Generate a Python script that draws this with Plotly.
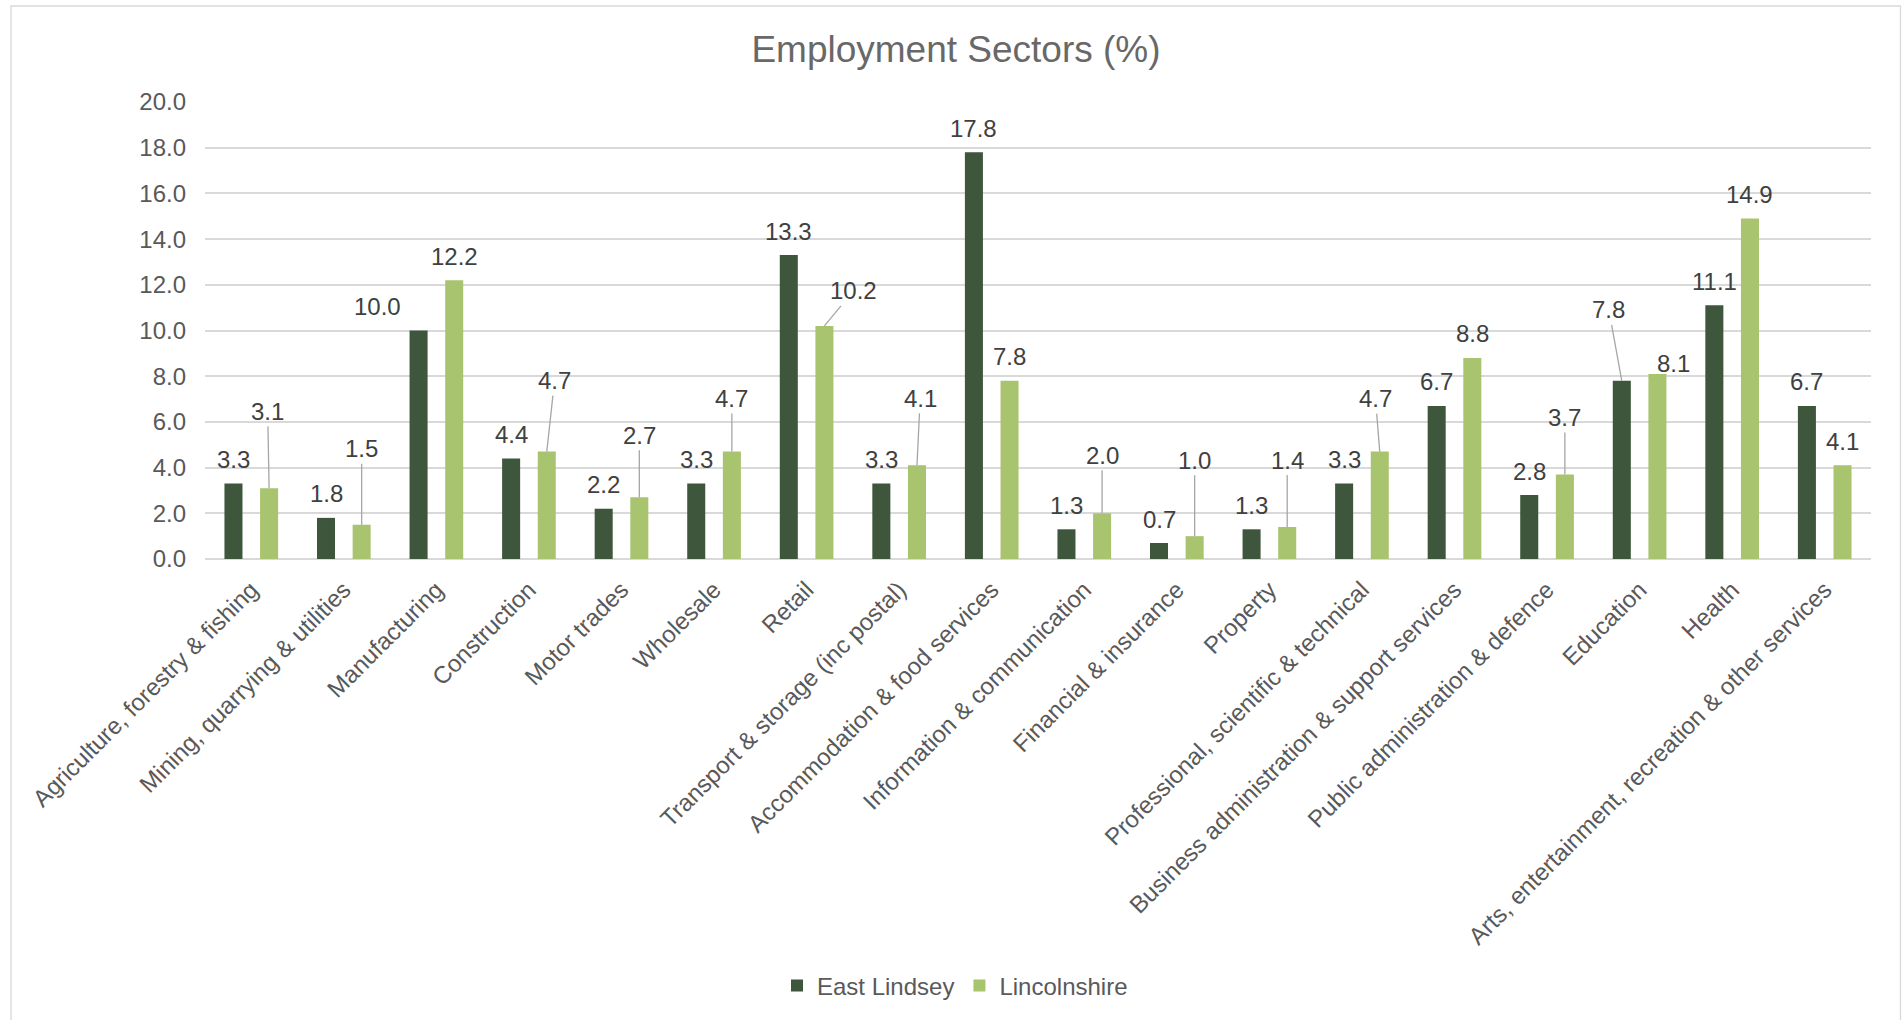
import plotly.graph_objects as go

# ---------------- data ----------------
categories = [
    "Agriculture, forestry & fishing",
    "Mining, quarrying & utilities",
    "Manufacturing",
    "Construction",
    "Motor trades",
    "Wholesale",
    "Retail",
    "Transport & storage (inc postal)",
    "Accommodation & food services",
    "Information & communication",
    "Financial & insurance",
    "Property",
    "Professional, scientific & technical",
    "Business administration & support services",
    "Public administration & defence",
    "Education",
    "Health",
    "Arts, entertainment, recreation & other services",
]
east_lindsey = [3.3, 1.8, 10.0, 4.4, 2.2, 3.3, 13.3, 3.3, 17.8, 1.3, 0.7, 1.3, 3.3, 6.7, 2.8, 7.8, 11.1, 6.7]
lincolnshire = [3.1, 1.5, 12.2, 4.7, 2.7, 4.7, 10.2, 4.1, 7.8, 2.0, 1.0, 1.4, 4.7, 8.8, 3.7, 8.1, 14.9, 4.1]
y_ticks = [0, 2, 4, 6, 8, 10, 12, 14, 16, 18, 20]

# ---------------- styling / label placement (pixels) ----------------
DARK = "#3E563C"
LIGHT = "#A9C46F"
FONT = "Liberation Sans, Arial, sans-serif"
FS = 24
DEFAULT_LABEL = (0, -24, False)
east_label_moves = {2: (-41.5, -24, False), 15: (-12.9, -71, True)}
lincs_label_moves = {
    0: (-1.4, -77, True), 1: (0, -76, True), 3: (7.8, -71, True), 4: (0, -62, True),
    5: (0, -53, True), 6: (29, -35, True), 7: (3.2, -67, True), 9: (0, -58, True),
    10: (0, -76, True), 11: (0, -67, True), 12: (-4.3, -53, True), 14: (0, -57, True),
    15: (15.7, -10, False),
}

BARGAP = 0.23
BARGROUPGAP = 0.494
bar_offset = (1 - BARGAP) / 4  # centre offset of each bar within its category

W, H = 1904, 1020
ML, MR, MT, MB = 205, 33, 102, 461
pw, ph = W - ML - MR, H - MT - MB

fig = go.Figure()
fig.add_trace(go.Bar(name="East Lindsey", x=categories, y=east_lindsey,
                     marker=dict(color=DARK, line=dict(width=0))))
fig.add_trace(go.Bar(name="Lincolnshire", x=categories, y=lincolnshire,
                     marker=dict(color=LIGHT, line=dict(width=0))))

annotations = []
for series, moves, sign in ((east_lindsey, east_label_moves, -1), (lincolnshire, lincs_label_moves, 1)):
    for i, v in enumerate(series):
        dx, dy, line = moves.get(i, DEFAULT_LABEL)
        base = dict(x=i + sign * bar_offset, y=v, xref="x", yref="y", text=f"{v:.1f}",
                    font=dict(family=FONT, size=FS, color="#404040"))
        if line:
            annotations.append(dict(base, showarrow=True, ax=dx, ay=dy, arrowhead=0,
                                    arrowwidth=1.3, arrowcolor="#A6A6A6",
                                    standoff=0, startstandoff=0, borderpad=1))
        else:
            annotations.append(dict(base, showarrow=False, xshift=dx, yshift=-dy,
                                    xanchor="center", yanchor="middle"))

fig.update_layout(
    width=W, height=H,
    margin=dict(l=ML, r=MR, t=MT, b=MB, autoexpand=False),
    paper_bgcolor="white", plot_bgcolor="white",
    barmode="group", bargap=BARGAP, bargroupgap=BARGROUPGAP,
    title=dict(text="Employment Sectors (%)", x=956 / W, xref="container", xanchor="center",
               y=1 - 49 / H, yref="container", yanchor="middle",
               font=dict(family=FONT, size=37, color="#686868")),
    font=dict(family=FONT, size=FS, color="#595959"),
    legend=dict(orientation="h", x=(955 - ML) / pw, xanchor="center",
                y=(H - MB - 986) / ph, yanchor="middle",
                font=dict(family=FONT, size=FS, color="#595959"),
                bgcolor="rgba(0,0,0,0)", itemclick=False, traceorder="normal"),
    annotations=annotations,
    showlegend=True,
)
fig.update_xaxes(type="category", tickangle=-45, showgrid=False,
                 showline=False, ticks="", ticklabelstandoff=11,
                 tickfont=dict(family=FONT, size=FS, color="#595959"),
                 range=[-0.5, len(categories) - 0.5])
fig.update_yaxes(range=[0, 20], tickvals=y_ticks, tickformat=".1f",
                 showgrid=True, gridcolor="#D9D9D9", gridwidth=1.5,
                 zeroline=True, zerolinecolor="#D9D9D9", zerolinewidth=1.5,
                 showline=False, ticks="", ticklabelstandoff=18,
                 tickfont=dict(family=FONT, size=FS, color="#595959"))

# chart-area border
fig.add_shape(type="rect", xref="paper", yref="paper",
              x0=(11 - ML) / pw, x1=(1900.5 - ML) / pw,
              y0=(H - MB - 1030) / ph, y1=(H - MB - 6) / ph,
              line=dict(color="#D9D9D9", width=1.3), fillcolor="rgba(0,0,0,0)", layer="below")

fig.write_html("out.html")
